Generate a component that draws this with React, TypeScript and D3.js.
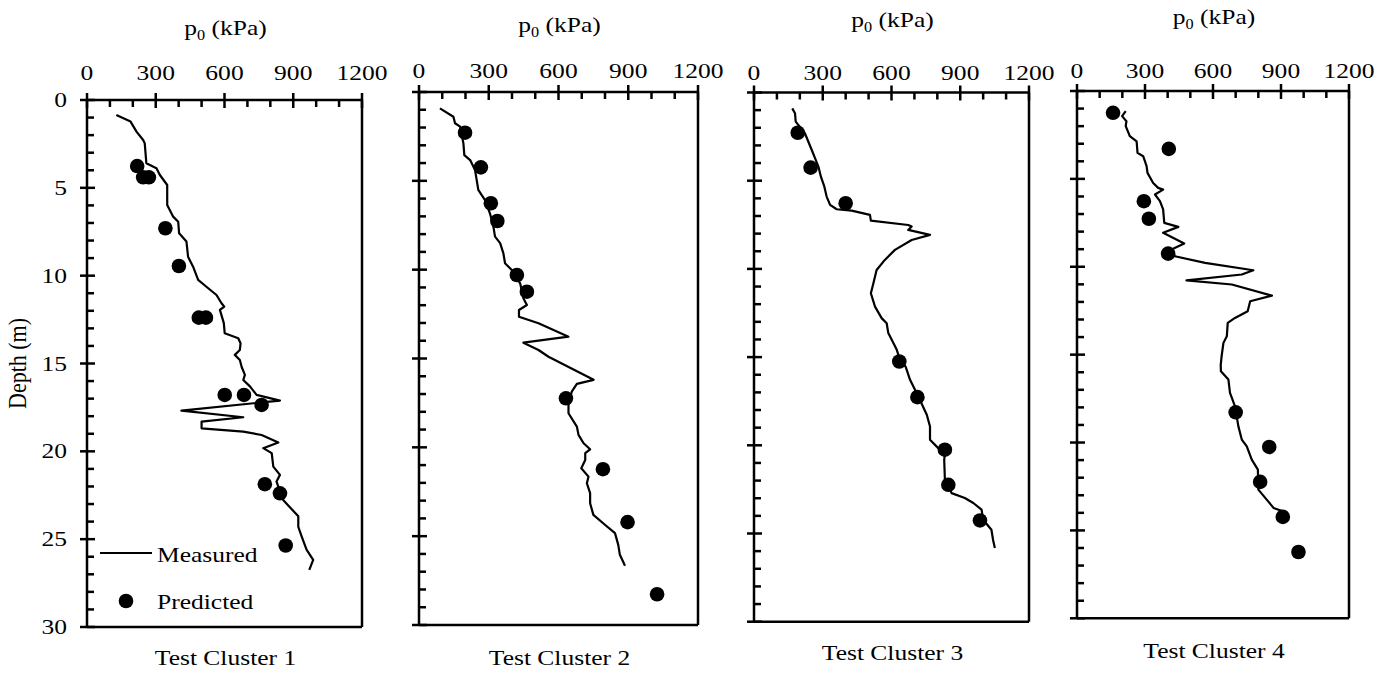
import React from "react";
import * as d3 from "d3";

// ---------- DATA ----------
// [depth (m), p0 (kPa)]
const measured1: [number, number][] = [
  [0.85, 128], [1.23, 190], [1.8, 216], [2.28, 245], [2.47, 252], [3.6, 259], [3.89, 303], [4.27, 318],
  [4.84, 350], [5.98, 350], [6.64, 376], [6.93, 398], [7.59, 402], [8.06, 434], [8.92, 441], [9.49, 463],
  [10.24, 485], [10.63, 521], [11.1, 565], [11.57, 587], [11.76, 599], [11.95, 580], [12.7, 597], [13.28, 601],
  [13.56, 660], [13.85, 670], [14.23, 667], [14.51, 645], [14.8, 667], [15.2, 675], [15.65, 689], [15.94, 682],
  [16.3, 711], [16.79, 740], [17.11, 842], [17.68, 412], [18.06, 682], [18.31, 500], [18.69, 500], [18.88, 682],
  [19.07, 762], [19.5, 835], [19.82, 769], [20.1, 806], [20.87, 813], [21.34, 842], [21.72, 827], [22.77, 856],
  [23.7, 922], [24.3, 922], [24.85, 937], [25.6, 958], [26.18, 987], [26.75, 970],
];
const predicted1: [number, number][] = [
  [3.76, 219], [4.4, 245], [4.4, 270], [7.3, 342], [9.45, 401], [12.39, 488], [12.39, 519],
  [16.79, 601], [16.79, 685], [17.36, 762], [21.87, 776], [22.39, 842], [25.36, 867],
];

const measured2: [number, number][] = [
  [0.92, 90], [1.39, 148], [1.76, 155], [1.95, 177], [2.89, 191], [3.55, 195], [3.83, 220], [4.39, 241],
  [4.95, 248], [5.51, 255], [6.08, 284], [6.83, 305], [7.58, 320], [8.14, 327], [8.51, 349], [9.08, 363],
  [9.64, 370], [10.11, 406], [10.77, 435], [11.61, 449], [11.99, 464], [12.27, 430], [12.65, 430], [13.02, 514],
  [13.77, 643], [14.11, 449], [14.52, 514], [14.9, 557], [16.2, 751], [16.43, 679], [16.87, 657], [17.61, 643],
  [18.08, 643], [18.83, 679], [19.3, 686], [19.77, 708], [20.11, 736], [20.33, 715], [20.71, 715], [21.18, 698],
  [21.65, 729], [22.02, 722], [22.58, 736], [23.15, 736], [23.8, 750], [24.37, 801], [24.83, 843], [25.49, 857],
  [26.05, 864], [26.67, 886],
];
const predicted2: [number, number][] = [
  [2.29, 198], [4.24, 266], [6.26, 309], [7.26, 337], [10.3, 421], [11.24, 464],
  [17.24, 632], [21.23, 791], [24.21, 897], [28.27, 1024],
];

const measured3: [number, number][] = [
  [0.9, 167], [1.18, 179], [1.65, 182], [2.31, 222], [3.26, 252], [4.2, 281], [4.77, 292], [5.34, 307],
  [5.9, 317], [6.37, 332], [6.62, 361], [6.7, 426], [6.94, 506], [7.26, 510], [7.51, 673], [7.6, 688],
  [7.79, 673], [8.07, 768], [8.36, 688], [8.92, 615], [9.49, 571], [10.06, 535], [10.81, 521], [11.38, 510],
  [12.14, 528], [12.79, 557], [13.08, 579], [13.64, 586], [14.02, 601], [14.59, 623], [15.16, 637], [15.55, 662],
  [16.29, 681], [17.23, 717], [18.27, 754], [18.93, 768], [19.69, 768], [20.16, 804], [20.44, 833], [20.82, 830],
  [21.95, 833], [22.71, 862], [22.99, 920], [23.27, 957], [23.65, 993], [24.22, 1000], [24.79, 1036], [25.35, 1043],
  [25.82, 1051],
];
const predicted3: [number, number][] = [
  [2.28, 191], [4.26, 247], [6.28, 400], [15.25, 634], [17.27, 713], [20.25, 833], [22.24, 848], [24.26, 986],
];

const measured4: [number, number][] = [
  [1.15, 215], [1.43, 199], [1.72, 218], [2.0, 215], [2.57, 233], [2.86, 263], [3.52, 267], [3.71, 292],
  [4.28, 307], [4.66, 311], [5.23, 336], [5.51, 358], [5.61, 380], [5.89, 344], [6.27, 366], [6.74, 380],
  [7.5, 385], [7.73, 447], [8.07, 380], [8.68, 473], [9.02, 417], [9.4, 432], [9.78, 565], [10.2, 778],
  [10.44, 727], [10.77, 483], [11.01, 683], [11.64, 860], [11.96, 764], [12.53, 753], [12.91, 697], [13.19, 665],
  [13.95, 661], [14.33, 646], [15.09, 638], [15.6, 634], [15.95, 635], [16.42, 668], [17.18, 675], [17.94, 697],
  [19.08, 712], [19.83, 727], [20.22, 749], [20.97, 771], [21.54, 798], [22.68, 800], [23.25, 837], [23.72, 867],
  [24.01, 930],
];
const predicted4: [number, number][] = [
  [1.24, 159], [3.29, 405], [6.27, 295], [7.27, 317], [9.25, 402],
  [18.28, 700], [20.25, 848], [22.24, 808], [24.23, 908], [26.23, 977],
];

const xTicks = [0, 300, 600, 900, 1200];
const yTicks = [0, 5, 10, 15, 20, 25, 30];
const clusterNames = ["Test Cluster 1", "Test Cluster 2", "Test Cluster 3", "Test Cluster 4"];
const legendLabels = ["Measured", "Predicted"];

// ---------- LAYOUT ----------
const W = 1390;
const H = 673;
const FONT = "'Liberation Serif', 'Times New Roman', serif";
const FS = 22;
const SX = 1.16; // horizontal stretch of the original figure

const layouts = [
  { left: 87, right: 362, top: 100, bottom: 627, tickY: 80, titleY: 35, nameY: 665 },
  { left: 419, right: 698, top: 92, bottom: 625, tickY: 78, titleY: 32, nameY: 665 },
  { left: 754, right: 1029, top: 92.5, bottom: 621.7, tickY: 80, titleY: 27, nameY: 660 },
  { left: 1077, right: 1349, top: 91, bottom: 618.3, tickY: 78, titleY: 24, nameY: 658 },
];

const datasets = [
  { m: measured1, p: predicted1 },
  { m: measured2, p: predicted2 },
  { m: measured3, p: predicted3 },
  { m: measured4, p: predicted4 },
];

function T({ x, y, children, anchor = "middle", size = FS, rotate = 0 }: any) {
  const tr = rotate
    ? `translate(${x},${y}) rotate(${rotate}) scale(1,${SX})`
    : `translate(${x},${y}) scale(${SX},1)`;
  return (
    <text transform={tr} textAnchor={anchor} fontFamily={FONT} fontSize={size} fill="#000">
      {children}
    </text>
  );
}

function Panel({ idx }: { idx: number }) {
  const L = layouts[idx];
  const data = datasets[idx];
  const x = d3.scaleLinear().domain([0, 1200]).range([L.left, L.right]);
  const y = d3.scaleLinear().domain([0, 30]).range([L.top, L.bottom]);
  const line = d3
    .line<[number, number]>()
    .x((d) => x(d[1]))
    .y((d) => y(d[0]));
  const xMinor = d3.range(0, 1201, 100).filter((v) => v % 300 !== 0);
  const yMinor = d3.range(0, 31, 1).filter((v) => v % 5 !== 0);
  const cx = (L.left + L.right) / 2 + 1;
  const sw = 2.5;
  return (
    <g>
      {/* frame */}
      <line x1={L.left} x2={L.right} y1={L.top} y2={L.top} stroke="#000" strokeWidth={sw} />
      <line x1={L.left} x2={L.right} y1={L.bottom} y2={L.bottom} stroke="#000" strokeWidth={sw} />
      <line x1={L.left} x2={L.left} y1={L.top} y2={L.bottom} stroke="#000" strokeWidth={sw} />
      <line x1={L.right} x2={L.right} y1={L.top} y2={L.bottom} stroke="#000" strokeWidth={sw} />
      {/* x ticks (top) */}
      {xTicks.map((v) => (
        <line key={"xM" + v} x1={x(v)} x2={x(v)} y1={L.top - 7} y2={L.top + 8} stroke="#000" strokeWidth={sw} />
      ))}
      {xMinor.map((v) => (
        <line key={"xm" + v} x1={x(v)} x2={x(v)} y1={L.top} y2={L.top + 7} stroke="#000" strokeWidth={sw} />
      ))}
      {/* y ticks (left) */}
      {yTicks.map((v) => (
        <line key={"yM" + v} x1={L.left - 7} x2={L.left + 8} y1={y(v)} y2={y(v)} stroke="#000" strokeWidth={sw} />
      ))}
      {yMinor.map((v) => (
        <line key={"ym" + v} x1={L.left} x2={L.left + 7} y1={y(v)} y2={y(v)} stroke="#000" strokeWidth={sw} />
      ))}
      {/* x tick labels */}
      {xTicks.map((v) => (
        <T key={"xl" + v} x={x(v)} y={L.tickY}>
          {String(v)}
        </T>
      ))}
      {/* y tick labels only for the first panel */}
      {idx === 0 &&
        yTicks.map((v) => (
          <T key={"yl" + v} x={L.left - 20} y={y(v) + 7} anchor="end">
            {String(v)}
          </T>
        ))}
      {/* title */}
      <text
        transform={`translate(${cx},${L.titleY}) scale(${SX},1)`}
        textAnchor="middle"
        fontFamily={FONT}
        fontSize={FS}
      >
        p<tspan fontSize={14} dy={5}>0</tspan>
        <tspan dy={-5}> (kPa)</tspan>
      </text>
      <T x={cx} y={L.nameY}>
        {clusterNames[idx]}
      </T>
      {/* measured line */}
      <path d={line(data.m) || ""} fill="none" stroke="#000" strokeWidth={2.2} strokeLinejoin="round" />
      {/* predicted points */}
      {data.p.map((d, i) => (
        <circle key={"p" + i} cx={x(d[1])} cy={y(d[0])} r={7.3} fill="#000" />
      ))}
    </g>
  );
}

export default function App() {
  const L = layouts[0];
  return (
    <svg
      width={W}
      height={H}
      viewBox={`0 0 ${W} ${H}`}
      style={{ position: "absolute", left: 0, top: 0, background: "#fff" }}
    >
      <rect width={W} height={H} fill="#fff" />
      {[0, 1, 2, 3].map((i) => (
        <Panel key={i} idx={i} />
      ))}
      {/* y axis title */}
      <T x={26} y={(L.top + L.bottom) / 2} rotate={-90}>
        Depth (m)
      </T>
      {/* legend */}
      <line x1={100} x2={152} y1={553} y2={553} stroke="#000" strokeWidth={2.2} />
      <T x={157} y={562} anchor="start">
        {legendLabels[0]}
      </T>
      <circle cx={126} cy={601} r={7.3} fill="#000" />
      <T x={157} y={609} anchor="start">
        {legendLabels[1]}
      </T>
    </svg>
  );
}
